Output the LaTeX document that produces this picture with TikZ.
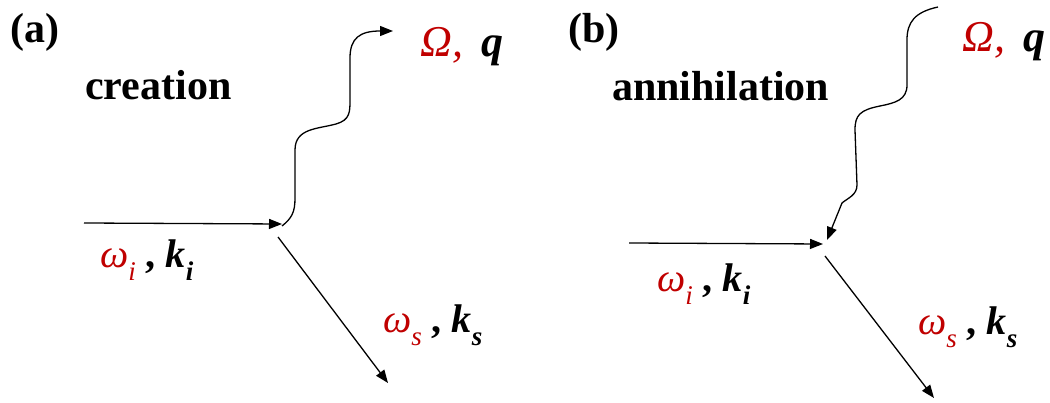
\documentclass[tikz,border=0pt]{standalone}
\usepackage{fontspec}
\setmainfont{Liberation Serif}
\usetikzlibrary{arrows.meta}
\definecolor{myred}{RGB}{192,0,0}
\newcommand{\wklabel}[1]{{\color{myred}\itshape ω\raisebox{-0.32em}{\fontsize{27}{27}\selectfont #1}}\ {\bfseries ,}\ {\bfseries\itshape k\raisebox{-0.32em}{\fontsize{27}{27}\selectfont #1}}}
\newcommand{\oqlabel}{{\color{myred}\itshape Ω,}\ \,{\bfseries\itshape q}}
\tikzset{
  arr/.style={line width=1.3pt, -{Triangle[length=13pt,width=10pt]}},
  wave/.style={line width=1.3pt},
  txt/.style={inner sep=0pt, anchor=base west},
  big/.style={font=\fontsize{42}{46}\selectfont\bfseries},
  lab/.style={font=\fontsize{40}{44}\selectfont},
  oq/.style={font=\fontsize{44}{48}\selectfont},
}
\begin{document}
\begin{tikzpicture}[x=1pt,y=-1pt]
\useasboundingbox (0,0) rectangle (1050,403);
% ---------- panel (a)
\node[txt,big] (ta) at (10,43) {(a)};
\node[txt,big] (cr) at (85,100) {creation};
\coordinate (ina) at (84,223);
\coordinate (va) at (282,224);
\coordinate (wa) at (282,226);
\coordinate (oa0) at (278,237);
\coordinate (oa1) at (388,383);
\coordinate (qa) at (393,31);
\draw[arr] (ina) -- (va);
\draw[wave,-{Triangle[length=13pt,width=10pt]}] (wa) .. controls (292,218) and (295,212) .. (295,198) -- (295,150)
  .. controls (295,128) and (318,129) .. (336,124) .. controls (350,120) and (350,112) .. (350,100) -- (350,58)
  .. controls (350,38) and (360,31) .. (qa);
\draw[arr] (oa0) -- (oa1);
\node[txt,oq] (oqa) at (420,57) {\oqlabel};
\node[txt,lab] (wia) at (100,268) {\wklabel{i}};
\node[txt,lab] (wsa) at (383,333) {\wklabel{s}};
% ---------- panel (b)
\node[txt,big] (tb) at (568,43) {(b)};
\node[txt,big] (an) at (612,101) {annihilation};
\coordinate (inb) at (629,243);
\coordinate (vb) at (823,244);
\coordinate (wb) at (938,7);
\coordinate (wbt) at (827,240);
\coordinate (ob0) at (825,256);
\coordinate (ob1) at (934,398);
\draw[arr] (inb) -- (vb);
\draw[wave,-{Triangle[length=13pt,width=10pt]}] (wb) .. controls (915,12) and (907,22) .. (907,40) -- (907,85)
  .. controls (907,100) and (895,103) .. (880,106) .. controls (860,110) and (855,115) .. (855,130) -- (857,185)
  .. controls (857,195) and (848,198) .. (842,203) -- (wbt);
\draw[arr] (ob0) -- (ob1);
\node[txt,oq] (oqb) at (962,52) {\oqlabel};
\node[txt,lab] (wib) at (657,292) {\wklabel{i}};
\node[txt,lab] (wsb) at (918,335) {\wklabel{s}};
\end{tikzpicture}
\end{document}
